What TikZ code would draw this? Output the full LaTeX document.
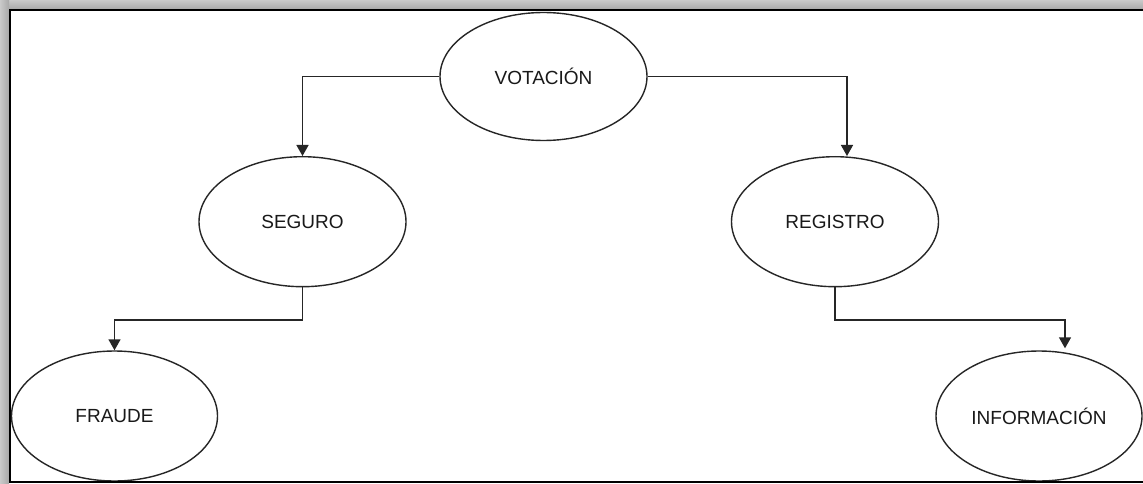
\documentclass[tikz,border=0pt]{standalone}
\usepackage{fontspec}
\setmainfont{Liberation Sans}
\usetikzlibrary{shapes.geometric,arrows.meta}
\definecolor{shadowout}{HTML}{CACACA}
\definecolor{shadowin}{HTML}{A8A8A8}
\tikzset{
  ent/.style={ellipse, draw=black!85, line width=1.4pt, fill=white,
    minimum width=207pt, minimum height=130pt, inner sep=0pt,
    font=\fontsize{19}{23}\selectfont, text=black!90},
  conn/.style={draw=black!85, line width=1.4pt,
    -{Triangle[width=12pt,length=11pt]}}
}
\begin{document}
\begin{tikzpicture}[x=1pt,y=-1pt]
\useasboundingbox (0,0) rectangle (1143,484);
\clip (0,0) rectangle (1143,484);
\fill[white] (0,0) rectangle (1143,484);
% shadow bands
\shade[top color=shadowout, bottom color=shadowin] (0,0) rectangle (1143,9.5);
\shade[left color=shadowout, right color=shadowin] (0,0) rectangle (9,484);
% frame
\draw[black, line width=2pt] (1160,10.5) -- (9.5,10.5) -- (9.5,481.5) -- (1160,481.5);
% nodes
\node[ent, minimum height=128pt] (V) at (543.5,76.5) {VOTACIÓN};
\node[ent] (S) at (302.5,221.7) {SEGURO};
\node[ent] (R) at (835,221.7) {REGISTRO};
\node[ent, minimum width=206pt] (F) at (114.5,416) {FRAUDE};
\node[ent, minimum width=206pt] (I) at (1039,416) {INFORMACIÓN};
% connectors
\draw[conn] (V.west) -| (S.north);
\draw[conn] (V.east) -| ([xshift=12pt]R.north);
\draw[conn] (S.south) -- ++(0,32.5) -| (F.north);
\draw[conn] (R.south) -- ++(0,32.5) -| ([xshift=26pt,yshift=2pt]I.north);
% redraw frame bottom over ellipses
\draw[black, line width=2pt] (9.5,481.5) -- (1160,481.5);
\end{tikzpicture}
\end{document}
